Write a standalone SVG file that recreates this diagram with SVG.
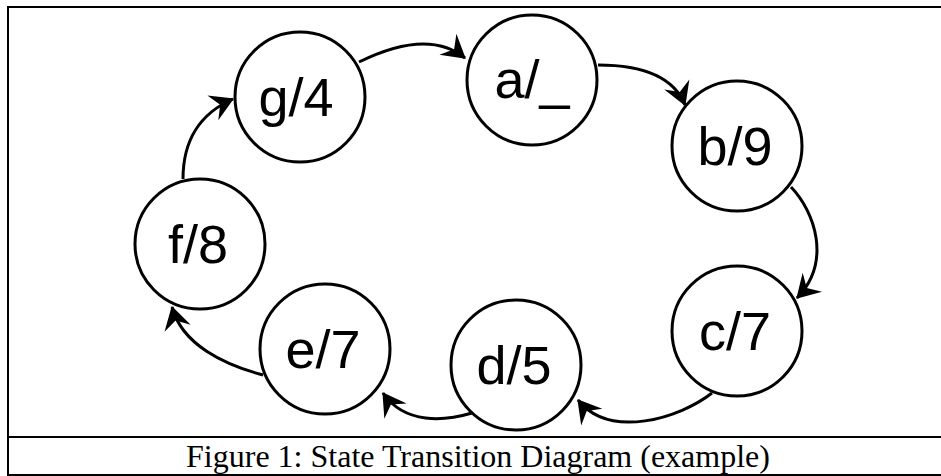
<svg xmlns="http://www.w3.org/2000/svg" width="941" height="476" viewBox="0 0 941 476">
<style>
.st{fill:#fff;stroke:#000;stroke-width:3}
.lb{font-family:"Liberation Sans",Arial,sans-serif;font-size:54px;text-anchor:middle;fill:#000}
.cn{fill:none;stroke:#000;stroke-width:3}
.cap{font-family:"Liberation Serif","Times New Roman",serif;font-size:32px;text-anchor:middle;fill:#000}
</style>
<defs>
<marker id="ah" markerUnits="userSpaceOnUse" markerWidth="50" markerHeight="50" viewBox="-30 -25 50 50" refX="0" refY="0" orient="auto">
<path d="M1,0 L-22,-13.5 L-14,0 L-22,13.5 Z" fill="#000"/>
</marker>
</defs>
<rect x="0" y="0" width="941" height="476" fill="#fff"/>
<rect x="8" y="7" width="942" height="468" fill="none" stroke="#000" stroke-width="2"/>
<line x1="8" y1="437" x2="941" y2="437" stroke="#000" stroke-width="2"/>
<g id="connectors">
<path class="cn" marker-end="url(#ah)" d="M359,62 Q428,28 465,58"/>
<path class="cn" marker-end="url(#ah)" d="M598,65 Q669,65 685,105"/>
<path class="cn" marker-end="url(#ah)" d="M791,187 C815,212 832,262 797,298"/>
<path class="cn" marker-end="url(#ah)" d="M712,393 C680,418 610,440 578,400"/>
<path class="cn" marker-end="url(#ah)" d="M472,413 C445,421 405,425 383,393"/>
<path class="cn" marker-end="url(#ah)" d="M263,375 C225,365 182,345 172,307"/>
<path class="cn" marker-end="url(#ah)" d="M183,179 Q183,121 233,99"/>
</g>
<g id="node-a"><circle class="st" cx="532" cy="80" r="65"/><text class="lb" x="532" y="98">a/_</text></g>
<g id="node-b"><circle class="st" cx="737" cy="146" r="65"/><text class="lb" x="735" y="165">b/9</text></g>
<g id="node-c"><circle class="st" cx="737" cy="331" r="65"/><text class="lb" x="735" y="350">c/7</text></g>
<g id="node-d"><circle class="st" cx="516" cy="365" r="65"/><text class="lb" x="514" y="384">d/5</text></g>
<g id="node-e"><circle class="st" cx="325" cy="349" r="65"/><text class="lb" x="323" y="368">e/7</text></g>
<g id="node-f"><circle class="st" cx="200" cy="244" r="65"/><text class="lb" x="198" y="263">f/8</text></g>
<g id="node-g"><circle class="st" cx="300" cy="97" r="65"/><text class="lb" x="296" y="116">g/4</text></g>
<text class="cap" x="478" y="467">Figure 1: State Transition Diagram (example)</text>
</svg>
